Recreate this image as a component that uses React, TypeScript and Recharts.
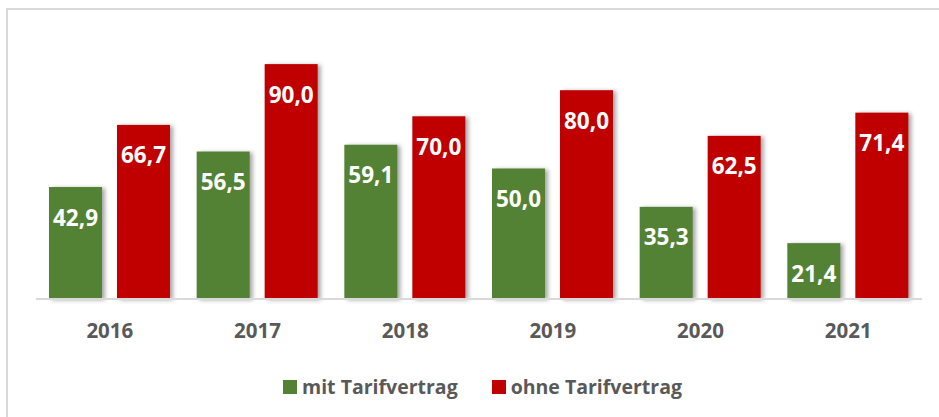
import React from 'react';
import { BarChart, Bar, XAxis, YAxis, Legend, LabelList } from 'recharts';

const years = ['2016', '2017', '2018', '2019', '2020', '2021'];
const mitTarif = [42.9, 56.5, 59.1, 50.0, 35.3, 21.4];
const ohneTarif = [66.7, 90.0, 70.0, 80.0, 62.5, 71.4];
const seriesNames = ['mit Tarifvertrag', 'ohne Tarifvertrag'];

const GREEN = '#548235';
const RED = '#C00000';
const GRAY = '#595959';
const FONT = '"Open Sans", sans-serif';

const data = years.map((year, i) => ({
  year,
  mit: mitTarif[i],
  ohne: ohneTarif[i],
}));

const fmt = (v: number) => v.toFixed(1).replace('.', ',');

// value label sits inside the bar, a bit below its top
const BarLabel = (props: any) => {
  const { x, y, width, value } = props;
  return (
    <text
      x={x + width / 2}
      y={y + 30}
      textAnchor="middle"
      dominantBaseline="central"
      fill="#ffffff"
      fontFamily={FONT}
      fontWeight={700}
      fontSize={22.5}
    >
      {fmt(value)}
    </text>
  );
};

const YearTick = ({ x, y, payload }: any) => (
  <text
    x={x}
    y={y + 31}
    textAnchor="middle"
    dominantBaseline="central"
    fill={GRAY}
    fontFamily={FONT}
    fontWeight={700}
    fontSize={20.5}
  >
    {payload.value}
  </text>
);

const ShadowBar = (props: any) => {
  const { x, y, width, height, fill } = props;
  return (
    <rect
      x={x}
      y={y}
      width={width}
      height={height}
      fill={fill}
      style={{ filter: 'drop-shadow(3px 1px 2px rgba(0,0,0,0.35))' }}
    />
  );
};

const LegendContent = () => (
  <div
    style={{
      display: 'flex',
      justifyContent: 'center',
      alignItems: 'center',
      paddingLeft: 26,
      fontFamily: FONT,
      fontWeight: 700,
      fontSize: 19.5,
      color: GRAY,
    }}
  >
    {seriesNames.map((name, i) => (
      <div
        key={name}
        style={{ display: 'flex', alignItems: 'center', marginRight: i === 0 ? 34 : 0 }}
      >
        <span
          style={{
            display: 'inline-block',
            width: 14,
            height: 14,
            background: i === 0 ? GREEN : RED,
            marginRight: 5,
          }}
        />
        <span>{name}</span>
      </div>
    ))}
  </div>
);

export default function App() {
  return (
    <div
      style={{
        position: 'absolute',
        left: 0,
        top: 0,
        width: 939,
        height: 417,
        overflow: 'hidden',
        background: '#ffffff',
      }}
    >
      <div
        style={{
          position: 'absolute',
          left: 6,
          top: 8,
          width: 1000,
          height: 1000,
          border: '2px solid #d9d9d9',
        }}
      />
      <div style={{ position: 'absolute', left: 0, top: 0 }}>
        <BarChart
          width={939}
          height={417}
          data={data}
          margin={{ top: 38, right: 17, left: 36, bottom: 56 }}
          barGap={15}
          barSize={53}
        >
          <XAxis
            dataKey="year"
            height={40}
            tickLine={false}
            tickSize={0}
            tickMargin={0}
            axisLine={{ stroke: '#d9d9d9', strokeWidth: 2 }}
            tick={<YearTick />}
            interval={0}
          />
          <YAxis hide domain={[0, 100]} />
          <Legend
            verticalAlign="bottom"
            height={22}
            content={<LegendContent />}
            wrapperStyle={{ top: 373, bottom: 'auto', left: 0, width: 939 }}
          />
          <Bar dataKey="mit" name={seriesNames[0]} fill={GREEN} shape={<ShadowBar />} isAnimationActive={false}>
            <LabelList dataKey="mit" content={<BarLabel />} />
          </Bar>
          <Bar dataKey="ohne" name={seriesNames[1]} fill={RED} shape={<ShadowBar />} isAnimationActive={false}>
            <LabelList dataKey="ohne" content={<BarLabel />} />
          </Bar>
        </BarChart>
      </div>
    </div>
  );
}
